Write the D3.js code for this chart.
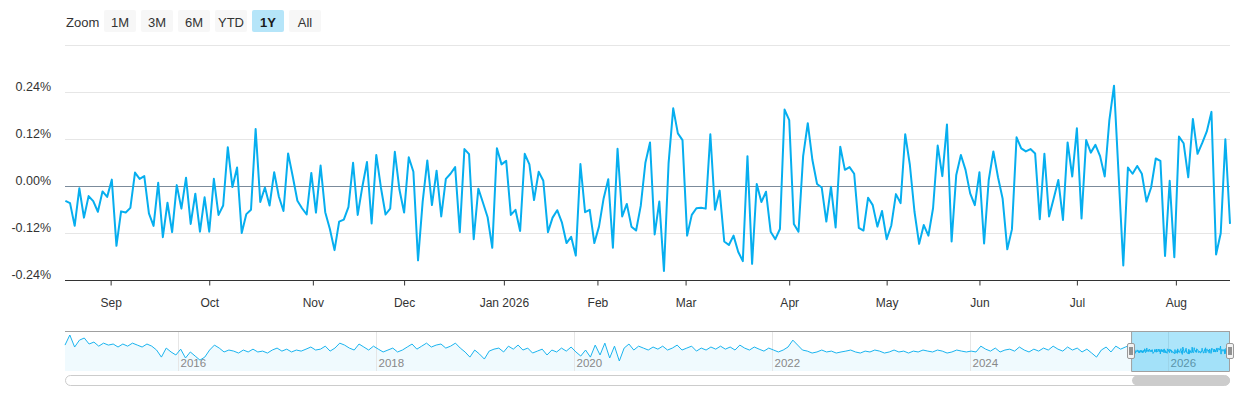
<!DOCTYPE html>
<html><head><meta charset="utf-8">
<script src="https://cdn.jsdelivr.net/npm/d3@7"></script>
<style>
body{margin:0;background:#fff;}
svg{display:block;font-family:"Liberation Sans",Arial,Helvetica,sans-serif;}
</style>
</head><body>
<svg id="c" width="1240" height="400"></svg>
<script>
// ---- data (daily change, %) ----
const dailyChange = [
-0.037,-0.043,-0.101,-0.005,-0.080,-0.025,-0.038,-0.065,-0.013,-0.027,
0.017,-0.152,-0.064,-0.067,-0.055,0.035,0.019,0.026,-0.069,-0.101,
0.009,-0.130,-0.042,-0.117,0.003,-0.057,0.022,-0.096,-0.019,-0.116,
-0.028,-0.116,0.019,-0.073,-0.049,0.100,-0.002,0.048,-0.119,-0.071,
-0.060,0.146,
-0.040,-0.003,-0.049,0.036,-0.026,-0.063,0.084,0.025,-0.037,-0.056,
-0.072,0.034,-0.067,0.053,-0.066,-0.109,-0.163,-0.090,-0.085,-0.053,
0.060,-0.073,-0.001,0.062,-0.095,0.080,-0.003,-0.072,-0.057,0.088,
-0.009,-0.067,0.074,0.037,-0.189,-0.039,0.066,-0.048,0.040,-0.077,
0.019,0.032,
0.049,-0.117,0.095,0.082,-0.135,-0.006,-0.042,-0.079,-0.157,0.097,
0.056,0.065,-0.073,-0.060,-0.114,0.083,0.056,-0.035,0.037,0.014,
-0.117,-0.080,-0.061,-0.092,-0.145,-0.129,-0.177,0.057,-0.066,-0.060,
-0.145,-0.103,-0.031,0.018,-0.157,0.096,-0.077,-0.045,-0.103,-0.113,
-0.050,0.060,
0.112,-0.123,-0.039,-0.216,0.059,0.199,0.135,0.118,-0.126,-0.073,
-0.056,-0.055,-0.057,0.133,-0.060,-0.011,-0.141,-0.150,-0.126,-0.167,
-0.191,0.077,-0.198,0.006,-0.040,-0.014,-0.116,-0.135,-0.109,0.196,
0.169,-0.096,-0.116,0.077,0.161,0.067,0.006,-0.003,-0.090,-0.001,
-0.105,0.101,
0.042,0.049,0.032,-0.106,-0.113,-0.029,-0.048,-0.103,-0.063,-0.135,
-0.100,-0.020,-0.043,0.133,0.055,-0.065,-0.147,-0.099,-0.126,-0.056,
0.104,0.026,0.158,-0.141,0.029,0.080,0.042,-0.018,-0.048,0.036,
-0.146,0.016,0.089,0.023,-0.032,-0.161,-0.110,0.125,0.097,0.089,
0.095,0.084,
-0.084,0.083,-0.077,-0.031,0.016,-0.086,0.112,0.025,0.148,-0.082,
0.118,0.086,0.106,0.077,0.025,0.169,0.257,0.028,-0.202,0.048,
0.032,0.052,0.032,-0.039,-0.003,0.071,0.065,-0.178,0.014,-0.181,
0.127,0.110,0.023,0.172,0.083,0.110,0.140,0.190,-0.174,-0.120,
0.120,-0.096
];

// long history shown in the navigator
const navHistory = [
0.31,0.88,0.20,0.59,0.71,
0.37,0.48,0.25,0.42,0.31,0.37,0.20,0.37,0.25,0.42,0.31,0.20,0.37,0.25,
0.03,-0.37,0.14,-0.08,-0.25,0.08,-0.42,-0.08,-0.31,-0.54,
-0.37,0.03,0.31,0.14,-0.08,0.03,
-0.03,-0.14,0.03,-0.08,0.08,-0.08,-0.03,-0.14,0.03,0.14,-0.03,0.08,-0.08,0.03,-0.03,0.08,
0.20,0.03,0.08,0.25,-0.03,0.14,0.42,0.31,0.14,0.03,
0.37,0.20,0.03,0.25,0.08,-0.08,0.03,0.14,-0.08,0.03,
0.20,0.37,0.08,0.25,0.42,0.20,0.31,0.37,0.14,0.25,0.42,0.14,-0.08,-0.37,0.03,-0.20,-0.48,-0.03,0.08,
0.14,-0.08,0.25,0.08,0.31,0.03,0.14,-0.14,-0.03,0.08,-0.25,0.03,
-0.08,0.14,-0.03,0.20,-0.08,-0.31,0.03,-0.37,
0.31,-0.25,0.42,-0.42,0.25,-0.59,0.14,0.37,0.03,0.25,
0.14,0.03,0.20,0.08,0.25,0.03,0.14,0.31,0.03,0.14,0.25,-0.03,0.14,0.03,0.20,0.08,
0.25,0.08,0.20,0.03,0.31,0.14,0.03,0.20,0.08,-0.03,0.14,0.03,-0.08,0.03,
0.20,0.59,0.31,0.03,
-0.03,-0.14,-0.08,0.03,-0.08,-0.03,-0.14,-0.08,-0.03,0.03,-0.08,-0.14,-0.03,-0.08,0.03,-0.03,-0.14,-0.08,
0.03,-0.08,-0.03,-0.14,-0.03,-0.08,0.03,-0.03,-0.08,0.03,-0.03,-0.14,-0.08,0.03,-0.03,-0.08,-0.03,-0.08,
0.25,0.08,-0.03,0.14,-0.08,0.03,0.08,-0.03,0.20,0.03,-0.08,0.08,-0.03,0.14,0.03,0.25,
0.08,-0.03,0.20,0.03,0.14,-0.08,0.08,-0.14,-0.37,0.03,0.20,-0.08,0.25,0.08,0.20,0.31
];

const holidays = ["2025-09-01","2025-11-27","2025-12-25","2026-01-01","2026-01-19",
                  "2026-02-16","2026-04-03","2026-05-25","2026-06-19","2026-07-03"];
const startDate = "2025-08-18";
const navStartDate = "2014-11-11";
const historyEndDate = "2025-08-15";
const zoomButtons = ["1M","3M","6M","YTD","1Y","All"];
const selectedButton = "1Y";
const yTicks = [-0.24,-0.12,0,0.12,0.24,0.36];
const navYears = [2016,2018,2020,2022,2024,2026];

// ---- build trading dates ----
const parse = d3.utcParse("%Y-%m-%d");
const fmtKey = d3.utcFormat("%Y-%m-%d");
const hol = new Set(holidays);
const dates = [];
let cur = parse(startDate);
while (dates.length < dailyChange.length) {
  const wd = cur.getUTCDay();
  if (wd !== 0 && wd !== 6 && !hol.has(fmtKey(cur))) dates.push(cur);
  cur = d3.utcDay.offset(cur, 1);
}
const mainData = dates.map((d,i)=>({date:d, v:dailyChange[i]}));

const svg = d3.select("#c");
const L = 65, R = 1230, T = 45.3, B = 280.3;

// ordinal-style x: evenly spaced trading days
const xi = d3.scaleLinear().domain([0, dates.length-1]).range([65.4, R]);
const x = d3.scaleLinear().domain(dates.map(d=>+d)).range(dates.map((d,i)=>xi(i))).clamp(true);
const y = d3.scaleLinear().domain([-0.24, 0.36]).range([B, T]);

// ---- zoom buttons ----
const btnG = svg.append("g");
btnG.append("text").attr("x",66).attr("y",27).attr("font-size",13).attr("fill","#333").text("Zoom");
zoomButtons.forEach((b,i)=>{
  const bx = 104 + i*37;
  const sel = b === selectedButton;
  btnG.append("rect").attr("x",bx).attr("y",10).attr("width",32).attr("height",22).attr("rx",2)
    .attr("fill", sel ? "#b5e5f9" : "#f7f7f7");
  btnG.append("text").attr("x",bx+16).attr("y",26.5).attr("text-anchor","middle")
    .attr("font-size",13).attr("fill", sel ? "#1a1a1a" : "#333")
    .attr("font-weight", sel ? "bold" : "normal").text(b);
});

// ---- grid ----
const grid = svg.append("g");
yTicks.forEach(t=>{
  if (t === -0.24) return;
  grid.append("line").attr("x1",L).attr("x2",R).attr("y1",Math.round(y(t))+0.5).attr("y2",Math.round(y(t))+0.5)
    .attr("stroke", t===0 ? "#7b8b9b" : "#e6e6e6").attr("stroke-width",1);
});
const yl = svg.append("g").attr("font-size",12.5).attr("fill","#333").attr("text-anchor","end");
yTicks.filter(t=>t!==0.36).forEach(t=>{
  yl.append("text").attr("x",51).attr("y",y(t)-1.5).text(t.toFixed(2)+"%");
});

// ---- x axis ----
const months = d3.utcMonth.range(d3.utcMonth.ceil(dates[0]), dates[dates.length-1]);
const axis = d3.axisBottom(x).tickValues(months.map(m=>+m)).tickSize(5).tickPadding(13)
  .tickFormat(v=>{const d=new Date(v); return d.getUTCMonth()===0 ? d3.utcFormat("%b %Y")(d) : d3.utcFormat("%b")(d);});
const ax = svg.append("g").attr("transform",`translate(0,${Math.round(B)+0.5})`).call(axis);
ax.select(".domain").remove();
ax.selectAll(".tick line").attr("stroke","#333");
ax.selectAll(".tick text").attr("font-size",12).attr("fill","#333").attr("font-family","'Liberation Sans',Arial,sans-serif");
svg.append("line").attr("x1",L).attr("x2",R).attr("y1",Math.round(B)+0.5).attr("y2",Math.round(B)+0.5)
  .attr("stroke","#333").attr("stroke-width",1);

// ---- main line ----
svg.append("clipPath").attr("id","pc").append("rect").attr("x",L).attr("y",T-5).attr("width",R-L+2).attr("height",B-T+10);
svg.append("path").datum(mainData).attr("clip-path","url(#pc)")
  .attr("fill","none").attr("stroke","#06aeef").attr("stroke-width",2).attr("stroke-linejoin","round")
  .attr("d", d3.line().x(d=>x(+d.date)).y(d=>y(d.v)));

// ---- navigator ----
const NT = 331.5, NB = 371;
const navStart = parse(navStartDate), histEnd = parse(historyEndDate);
const histData = navHistory.map((v,i)=>({date:new Date(+navStart + i*(histEnd-navStart)/(navHistory.length-1)), v}));
const navData = histData.concat(mainData);
const xNav = d3.scaleUtc().domain([navStart, dates[dates.length-1]]).range([L, R]);
const yNav = d3.scaleLinear().domain(d3.extent(navData, d=>d.v)).range([361, 335]);

const nav = svg.append("g");
nav.append("path").datum(navData).attr("fill","rgba(0,174,239,0.06)")
  .attr("d", d3.area().x(d=>xNav(d.date)).y0(NB).y1(d=>yNav(d.v)));
navYears.forEach(yr=>{
  const xx = Math.round(xNav(Date.UTC(yr,0,1)))+0.5;
  nav.append("line").attr("x1",xx).attr("x2",xx).attr("y1",NT).attr("y2",NB).attr("stroke","#e6e6e6");
  nav.append("text").attr("x",xx+2).attr("y",367).attr("font-size",11.5).attr("fill","#888").text(yr);
});
nav.append("path").datum(navData).attr("fill","none").attr("stroke","#1ab4ef").attr("stroke-width",1)
  .attr("d", d3.line().x(d=>xNav(d.date)).y(d=>yNav(d.v)));

const sx0 = xNav(dates[0]), sx1 = xNav(dates[dates.length-1]);
nav.append("rect").attr("x",sx0).attr("y",NT).attr("width",sx1-sx0).attr("height",NB-NT)
  .attr("fill","rgba(0,174,239,0.32)");
nav.append("line").attr("x1",L).attr("x2",R).attr("y1",NT).attr("y2",NT).attr("stroke","#a0a0a0");
nav.append("path").attr("fill","none").attr("stroke","#a0a0a0")
  .attr("d",`M${sx0+0.5},${NT}V${NB+0.5}H${sx1-0.5}V${NT}`);
[sx0, sx1].forEach(hx=>{
  const g = nav.append("g").attr("transform",`translate(${Math.round(hx)},351)`);
  g.append("rect").attr("x",-3.5).attr("y",-7.5).attr("width",7).attr("height",15).attr("rx",1.5)
    .attr("fill","#f2f2f2").attr("stroke","#999");
  g.append("line").attr("x1",-1).attr("x2",-1).attr("y1",-4).attr("y2",4).attr("stroke","#333");
  g.append("line").attr("x1",1).attr("x2",1).attr("y1",-4).attr("y2",4).attr("stroke","#333");
});

// ---- scrollbar ----
svg.append("rect").attr("x",L+0.5).attr("y",375.5).attr("width",R-L-1).attr("height",10).attr("rx",5)
  .attr("fill","#fff").attr("stroke","#cccccc");
svg.append("rect").attr("x",sx0+1).attr("y",375.5).attr("width",sx1-sx0-1).attr("height",10).attr("rx",5)
  .attr("fill","#cccccc");
</script>
</body></html>
